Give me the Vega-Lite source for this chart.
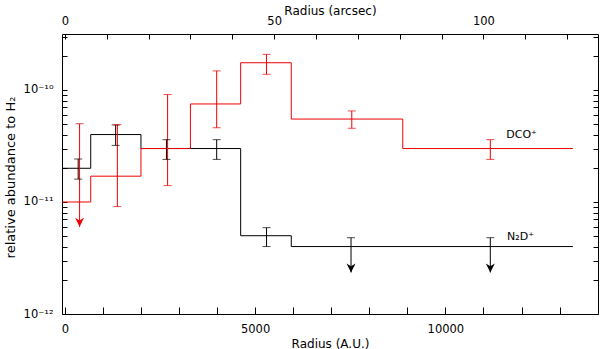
{
  "$schema": "https://vega.github.io/schema/vega-lite/v6.json",
  "width": 536,
  "height": 280,
  "autosize": {"type": "none"},
  "padding": {"left": 62, "top": 34, "right": 2, "bottom": 35},
  "config": {
    "view": {"stroke": "#000", "strokeWidth": 1},
    "font": "DejaVu Sans",
    "axis": {
      "grid": false,
      "domain": false,
      "labelColor": "#000",
      "titleColor": "#000",
      "labelFont": "DejaVu Sans",
      "titleFont": "DejaVu Sans",
      "labelFontSize": 11.5,
      "titleFontSize": 12,
      "titleFontWeight": "normal",
      "labelFlush": false,
      "labelOverlap": false,
      "labelBound": false
    }
  },
  "datasets": {
    "steps": [
      {"series": "N2D+", "r": -75, "abund": 2e-11},
      {"series": "N2D+", "r": 680, "abund": 4e-11},
      {"series": "N2D+", "r": 2000, "abund": 3e-11},
      {"series": "N2D+", "r": 4620, "abund": 5e-12},
      {"series": "N2D+", "r": 5950, "abund": 4e-12},
      {"series": "N2D+", "r": 13350, "abund": 4e-12},
      {"series": "DCO+", "r": -75, "abund": 1e-11},
      {"series": "DCO+", "r": 680, "abund": 1.7e-11},
      {"series": "DCO+", "r": 2000, "abund": 3e-11},
      {"series": "DCO+", "r": 3300, "abund": 7.5e-11},
      {"series": "DCO+", "r": 4620, "abund": 1.75e-10},
      {"series": "DCO+", "r": 5950, "abund": 5.5e-11},
      {"series": "DCO+", "r": 8880, "abund": 3e-11},
      {"series": "DCO+", "r": 13350, "abund": 3e-11}
    ],
    "errs": [
      {"series": "N2D+", "r": 350, "lo": 1.6e-11, "hi": 2.42e-11, "limit": false},
      {"series": "N2D+", "r": 1335, "lo": 3.2e-11, "hi": 4.87e-11, "limit": false},
      {"series": "N2D+", "r": 2670, "lo": 2.4e-11, "hi": 3.6e-11, "limit": false},
      {"series": "N2D+", "r": 3990, "lo": 2.4e-11, "hi": 3.6e-11, "limit": false},
      {"series": "N2D+", "r": 5300, "lo": 4e-12, "hi": 5.9e-12, "limit": false},
      {"series": "N2D+", "r": 7520, "lo": 2.35e-12, "hi": 4.8e-12, "limit": true},
      {"series": "N2D+", "r": 11180, "lo": 2.35e-12, "hi": 4.8e-12, "limit": true},
      {"series": "DCO+", "r": 387, "lo": 6.0e-12, "hi": 5e-11, "limit": true},
      {"series": "DCO+", "r": 1380, "lo": 9.1e-12, "hi": 4.9e-11, "limit": false},
      {"series": "DCO+", "r": 2700, "lo": 1.4e-11, "hi": 9.1e-11, "limit": false},
      {"series": "DCO+", "r": 3990, "lo": 4.6e-11, "hi": 1.48e-10, "limit": false},
      {"series": "DCO+", "r": 5300, "lo": 1.38e-10, "hi": 2.08e-10, "limit": false},
      {"series": "DCO+", "r": 7540, "lo": 4.55e-11, "hi": 6.5e-11, "limit": false},
      {"series": "DCO+", "r": 11180, "lo": 2.4e-11, "hi": 3.6e-11, "limit": false}
    ],
    "labels": [
      {"r": 11600, "abund": 3.73e-11, "text": "DCO⁺"},
      {"r": 11620, "abund": 4.58e-12, "text": "N₂D⁺"}
    ]
  },
  "resolve": {"axis": {"x": "independent", "y": "independent"}},
  "layer": [
    {
      "data": {"name": "steps"},
      "transform": [{"filter": "datum.series == 'N2D+'"}],
      "mark": {"type": "line", "interpolate": "step-after", "strokeWidth": 1},
      "encoding": {
        "x": {
          "field": "r", "type": "quantitative",
          "scale": {"domain": [-75, 14010], "nice": false, "zero": false},
          "axis": {
            "orient": "bottom",
            "title": "Radius (A.U.)",
            "values": [0, 1000, 2000, 3000, 4000, 5000, 6000, 7000, 8000, 9000, 10000, 11000, 12000, 13000],
            "format": "d",
            "labelExpr": "datum.value % 5000 == 0 ? datum.label : ''",
            "ticks": true,
            "tickColor": "#000000",
            "tickWidth": 1,
            "tickOpacity": 1,
            "tickSize": -7,
            "labelPadding": 16,
            "titleY": 29,
            "titleBaseline": "middle"
          }
        },
        "y": {
          "field": "abund", "type": "quantitative",
          "scale": {"type": "log", "domain": [1e-12, 3.16e-10], "nice": false},
          "axis": {
            "orient": "left",
            "title": "relative abundance to H₂",
            "titleFontSize": 13,
            "values": [1e-12, 2e-12, 3e-12, 4e-12, 5e-12, 6e-12, 7e-12, 8e-12, 9e-12, 1e-11, 2e-11, 3e-11, 4e-11, 5e-11, 6e-11, 7e-11, 8e-11, 9e-11, 1e-10, 2e-10, 3e-10],
            "labelExpr": "datum.value < 1.5e-12 ? '10⁻¹²' : (abs(datum.value - 1e-11) < 1e-15 ? '10⁻¹¹' : (abs(datum.value - 1e-10) < 1e-14 ? '10⁻¹⁰' : ''))",
            "ticks": true,
            "tickColor": "#000000",
            "tickWidth": 1,
            "tickOpacity": 1,
            "tickSize": -5,
            "labelPadding": 14,
            "titleX": -52,
            "titleY": 143,
            "titleBaseline": "middle"
          }
        },
        "color": {"field": "series", "type": "nominal", "scale": {"domain": ["N2D+", "DCO+"], "range": ["#000000", "#f00000"]}, "legend": null}
      }
    },
    {
      "data": {"name": "steps"},
      "transform": [{"filter": "datum.series == 'DCO+'"}],
      "mark": {"type": "line", "interpolate": "step-after", "strokeWidth": 1},
      "encoding": {
        "x": {"field": "r", "type": "quantitative", "scale": {"domain": [-75, 14010], "nice": false, "zero": false}, "axis": null},
        "y": {"field": "abund", "type": "quantitative", "scale": {"type": "log", "domain": [1e-12, 3.16e-10], "nice": false}, "axis": null},
        "color": {"field": "series", "type": "nominal", "legend": null}
      }
    },
    {
      "data": {"name": "errs"},
      "mark": {"type": "rule", "strokeWidth": 1},
      "encoding": {
        "x": {
          "field": "r", "type": "quantitative",
          "scale": {"domain": [-75, 14010], "nice": false, "zero": false},
          "axis": {
            "orient": "top",
            "title": "Radius (arcsec)",
            "values": [0, 1100, 2200, 3300, 4400, 5500, 6600, 7700, 8800, 9900, 11000, 12100, 13200],
            "labelExpr": "datum.value % 5500 == 0 ? format(datum.value / 110, 'd') : ''",
            "ticks": true,
            "tickColor": "#000000",
            "tickWidth": 1,
            "tickOpacity": 1,
            "tickSize": -5,
            "labelPadding": 13,
            "titleY": -24,
            "titleBaseline": "middle"
          }
        },
        "y": {
          "field": "lo", "type": "quantitative",
          "scale": {"type": "log", "domain": [1e-12, 3.16e-10], "nice": false},
          "axis": {
            "orient": "right",
            "title": null,
            "values": [1e-12, 2e-12, 3e-12, 4e-12, 5e-12, 6e-12, 7e-12, 8e-12, 9e-12, 1e-11, 2e-11, 3e-11, 4e-11, 5e-11, 6e-11, 7e-11, 8e-11, 9e-11, 1e-10, 2e-10, 3e-10],
            "labels": false,
            "ticks": true,
            "tickColor": "#000000",
            "tickWidth": 1,
            "tickOpacity": 1,
            "tickSize": -5
          }
        },
        "y2": {"field": "hi"},
        "color": {"field": "series", "type": "nominal", "legend": null}
      }
    },
    {
      "data": {"name": "errs"},
      "mark": {"type": "tick", "orient": "horizontal", "size": 8, "thickness": 1},
      "encoding": {
        "x": {"field": "r", "type": "quantitative", "scale": {"domain": [-75, 14010], "nice": false, "zero": false}, "axis": null},
        "y": {"field": "hi", "type": "quantitative", "scale": {"type": "log", "domain": [1e-12, 3.16e-10], "nice": false}, "axis": null},
        "color": {"field": "series", "type": "nominal", "legend": null}
      }
    },
    {
      "data": {"name": "errs"},
      "transform": [{"filter": "!datum.limit"}],
      "mark": {"type": "tick", "orient": "horizontal", "size": 8, "thickness": 1},
      "encoding": {
        "x": {"field": "r", "type": "quantitative", "scale": {"domain": [-75, 14010], "nice": false, "zero": false}, "axis": null},
        "y": {"field": "lo", "type": "quantitative", "scale": {"type": "log", "domain": [1e-12, 3.16e-10], "nice": false}, "axis": null},
        "color": {"field": "series", "type": "nominal", "legend": null}
      }
    },
    {
      "data": {"name": "errs"},
      "transform": [{"filter": "datum.limit"}],
      "mark": {"type": "point", "shape": "M0,0 L-1,-2 L0,-1.4 L1,-2 Z", "filled": true, "size": 81, "opacity": 1, "strokeWidth": 0},
      "encoding": {
        "x": {"field": "r", "type": "quantitative", "scale": {"domain": [-75, 14010], "nice": false, "zero": false}, "axis": null},
        "y": {"field": "lo", "type": "quantitative", "scale": {"type": "log", "domain": [1e-12, 3.16e-10], "nice": false}, "axis": null},
        "color": {"field": "series", "type": "nominal", "legend": null}
      }
    },
    {
      "data": {"name": "labels"},
      "mark": {"type": "text", "align": "left", "baseline": "alphabetic", "fontSize": 11, "color": "#000", "font": "DejaVu Sans"},
      "encoding": {
        "x": {"field": "r", "type": "quantitative", "scale": {"domain": [-75, 14010], "nice": false, "zero": false}, "axis": null},
        "y": {"field": "abund", "type": "quantitative", "scale": {"type": "log", "domain": [1e-12, 3.16e-10], "nice": false}, "axis": null},
        "text": {"field": "text"}
      }
    }
  ]
}
